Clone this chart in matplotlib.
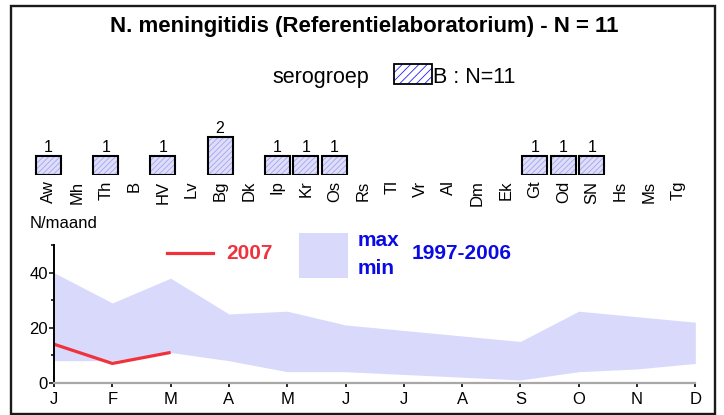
import matplotlib
matplotlib.use('Agg')
import matplotlib.pyplot as plt
from matplotlib.patches import Rectangle
from matplotlib.lines import Line2D

plt.rcParams['font.family'] = ['Liberation Sans', 'DejaVu Sans']
plt.rcParams['hatch.linewidth'] = 0.6

# ---------------- data ----------------
months = ['J', 'F', 'M', 'A', 'M', 'J', 'J', 'A', 'S', 'O', 'N', 'D']
max_9706 = [40, 29, 38, 25, 26, 21, 19, 17, 15, 26, 24, 22]
min_9706 = [8, 8, 11, 8, 4, 4, 3, 2, 1, 4, 5, 7]
y2007 = [14, 7, 11]

regions = ['Aw', 'Mh', 'Th', 'B', 'HV', 'Lv', 'Bg', 'Dk', 'Ip', 'Kr', 'Os', 'Rs',
           'Tl', 'Vr', 'Al', 'Dm', 'Ek', 'Gt', 'Od', 'SN', 'Hs', 'Ms', 'Tg']
counts = [1, 0, 1, 0, 1, 0, 2, 0, 1, 1, 1, 0, 0, 0, 0, 0, 0, 1, 1, 1, 0, 0, 0]

title = 'N. meningitidis (Referentielaboratorium) - N = 11'
legend_label = 'B : N=11'

# ---------------- figure ----------------
W, H = 724, 415
fig = plt.figure(figsize=(7.24, 4.15), dpi=100)


def fx(px):
    return px / W


def fy(py):
    return 1 - py / H


# outer frame
fig.patches.append(Rectangle((fx(11), fy(414)), fx(715) - fx(11), fy(6) - fy(414),
                             transform=fig.transFigure, fill=False, lw=1.7, ec='#1a1a1a'))

fig.text(fx(364), fy(32.3), title, ha='center', va='baseline', fontsize=16, fontweight='bold')

# serogroup legend
fig.text(fx(272.7), fy(83.3), 'serogroep', ha='left', va='baseline', fontsize=15.5)
fig.patches.append(Rectangle((fx(394), fy(84)), fx(431.7) - fx(394), fy(64) - fy(84),
                             transform=fig.transFigure, facecolor='white', edgecolor='#2020ff',
                             hatch='////', lw=0))
fig.patches.append(Rectangle((fx(394), fy(84)), fx(431.7) - fx(394), fy(64) - fy(84),
                             transform=fig.transFigure, fill=False, edgecolor='black', lw=1.3))
fig.text(fx(433.3), fy(83.3), legend_label, ha='left', va='baseline', fontsize=15.5)

# ---------------- bar axes ----------------
axb = fig.add_axes([fx(34.2), fy(175), fx(692) - fx(34.2), 57 / H])
axb.set_xlim(-0.5, len(regions) - 0.5)
axb.set_ylim(0, 3)
axb.axis('off')
xs = [i for i, c in enumerate(counts) if c > 0]
hs = [c for c in counts if c > 0]
axb.bar(xs, hs, width=0.87, color='#dedefa', edgecolor='#a4a4ee', hatch='//////', lw=0)
axb.bar(xs, hs, width=0.87, fill=False, edgecolor='black', lw=1.5)
for i, c in zip(xs, hs):
    axb.annotate(str(c), (i, c), xytext=(0, 3), textcoords='offset points',
                 ha='center', va='baseline', fontsize=11.5)
for i, r in enumerate(regions):
    axb.annotate(r, (i, 0), xytext=(0, -4), textcoords='offset points',
                 ha='center', va='top', rotation=90, fontsize=12, annotation_clip=False)

# ---------------- line axes ----------------
ax = fig.add_axes([fx(54), fy(382.7), fx(695.3) - fx(54), (382.7 - 245.2) / H])
x = list(range(len(months)))
ax.fill_between(x, min_9706, max_9706, color='#d9d9fc', lw=0)
ax.plot(range(len(y2007)), y2007, color='#f0323c', lw=2.3, solid_capstyle='butt')
ax.set_xlim(0, 11)
ax.set_ylim(0, 50)
ax.set_xticks(x)
ax.set_xticklabels(months, fontsize=12)
ax.set_yticks([0, 20, 40])
ax.set_yticks([10, 30, 50], minor=True)
ax.tick_params(axis='y', labelsize=12, length=3.5, width=1.1, pad=1)
ax.tick_params(axis='y', which='minor', length=2.5, width=1.1)
ax.tick_params(axis='x', length=3, width=1.2, pad=4, color='black')
for s in ['top', 'right']:
    ax.spines[s].set_visible(False)
ax.spines['left'].set_linewidth(1.4)
ax.spines['left'].set_color('black')
ax.spines['bottom'].set_linewidth(1.6)
ax.spines['bottom'].set_color('#a8a8a8')
ax.set_facecolor('none')

fig.text(fx(30), fy(223.3), 'N/maand', ha='left', va='center', fontsize=12)

# line legend
fig.lines.append(Line2D([fx(166.7), fx(213.3)], [fy(253.3), fy(253.3)], transform=fig.transFigure,
                        color='#f0323c', lw=2.3))
fig.text(fx(226), fy(253.3), '2007', ha='left', va='center', fontsize=15, fontweight='bold',
         color='#f0323c')
fig.patches.append(Rectangle((fx(299), fy(278.3)), fx(347.7) - fx(299), fy(233.3) - fy(278.3),
                             transform=fig.transFigure, facecolor='#d9d9fc', lw=0))
fig.text(fx(357.3), fy(240.7), 'max', ha='left', va='center', fontsize=15, fontweight='bold',
         color='#0a0ae6')
fig.text(fx(357.3), fy(268.3), 'min', ha='left', va='center', fontsize=15, fontweight='bold',
         color='#0a0ae6')
fig.text(fx(411.7), fy(253.3), '1997-2006', ha='left', va='center', fontsize=15, fontweight='bold',
         color='#0a0ae6')

fig.savefig('out.png', dpi=100)
